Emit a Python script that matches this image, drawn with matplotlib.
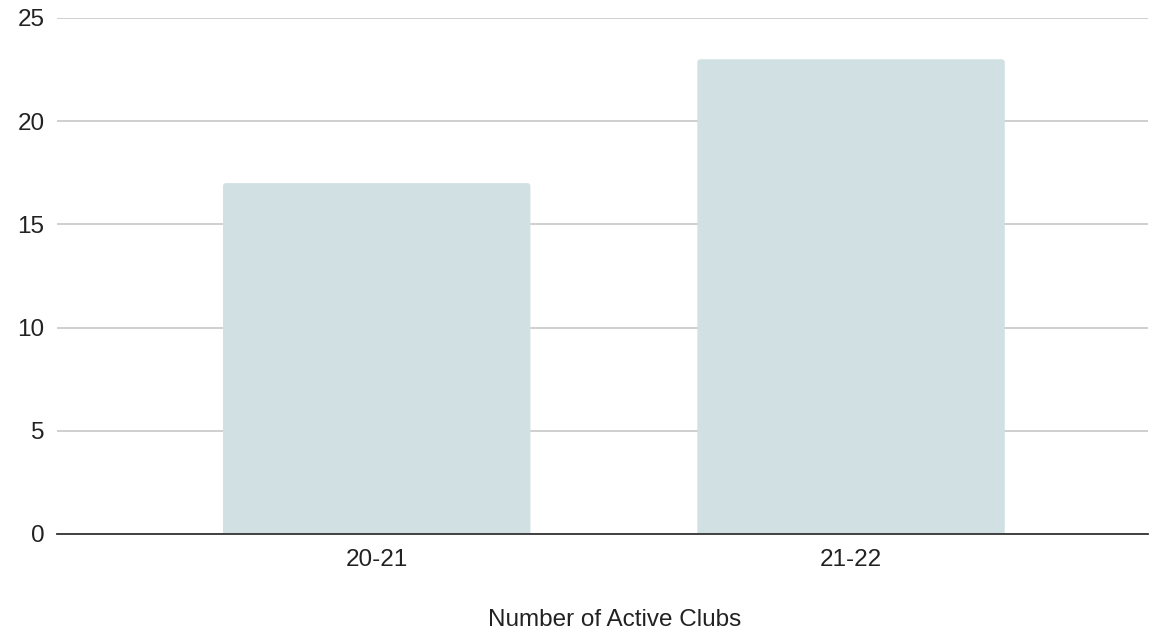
import matplotlib
matplotlib.use("Agg")
import matplotlib.pyplot as plt
from matplotlib.patches import FancyBboxPatch

categories = ["20-21", "21-22"]
active_clubs = [17, 23]
y_ticks = [0, 5, 10, 15, 20, 25]

plt.rcParams["font.family"] = ["Liberation Sans", "DejaVu Sans"]

fig = plt.figure(figsize=(11.59, 6.37), dpi=100)
ax = fig.add_axes([57 / 1159, 1 - 534 / 637, (1148 - 57) / 1159, (534 - 18) / 637])

ax.set_xlim(-0.674, 1.626)
ax.set_ylim(0, 25)

# bars with slightly rounded corners; the bottom edge sits below the axis and is clipped
bar_width = 0.648
px_x = ax.bbox.width / (ax.get_xlim()[1] - ax.get_xlim()[0])
px_y = ax.bbox.height / (ax.get_ylim()[1] - ax.get_ylim()[0])
radius_px = 3
r_x = radius_px / px_x
aspect = (radius_px / px_y) / r_x
x = list(range(len(categories)))
for xi, val in zip(x, active_clubs):
    patch = FancyBboxPatch((xi - bar_width / 2, -1), bar_width, val + 1,
                           boxstyle=f"round,pad=0,rounding_size={r_x}",
                           mutation_aspect=aspect,
                           facecolor="#d0e0e3", edgecolor="none", zorder=2)
    ax.add_patch(patch)

ax.set_yticks(y_ticks)
ax.set_xticks(x)
ax.set_xticklabels(categories)

ax.grid(axis="y", color="#cccccc", linewidth=1.3, zorder=0)
for side in ["top", "right", "left"]:
    ax.spines[side].set_visible(False)
ax.spines["bottom"].set_color("#333333")
ax.spines["bottom"].set_linewidth(1.3)
ax.spines["bottom"].set_zorder(3)

ax.tick_params(axis="y", length=0, pad=9, labelsize=17.5, labelcolor="#222222")
ax.tick_params(axis="x", length=0, pad=11, labelsize=17.5, labelcolor="#222222")

ax.set_xlabel("Number of Active Clubs", fontsize=17.5, color="#222222", va="center")
ax.xaxis.set_label_coords(0.5115, -0.167)

fig.savefig("out.png", dpi=100)
